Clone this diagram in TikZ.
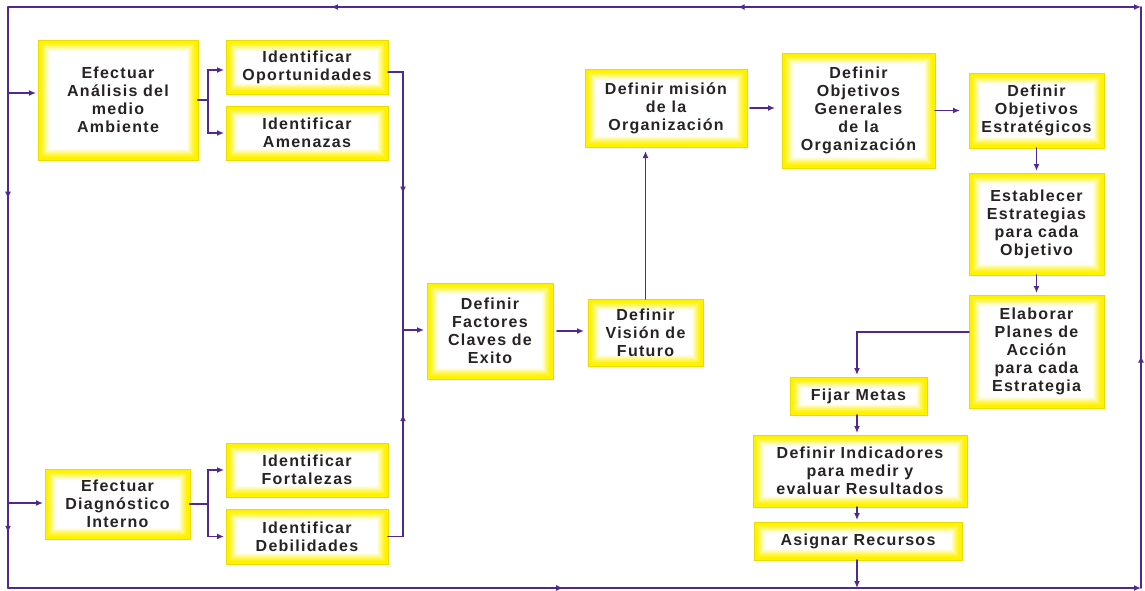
\documentclass[tikz,border=0pt]{standalone}
\usepackage{fontspec}
\newfontfamily\boxfam{Liberation Sans}[LetterSpace=8]
\usetikzlibrary{arrows.meta,decorations.markings}
\definecolor{lin}{RGB}{80,40,145}
\definecolor{ybord}{RGB}{235,220,0}
\definecolor{txt}{RGB}{40,35,35}
\tikzset{
  box/.style 2 args={rectangle, inner sep=0pt, outer sep=0pt, align=center,
    minimum width=#1pt, minimum height=#2pt,
    font=\boxfam\bfseries\fontsize{16}{18}\selectfont, text=txt, fill=white,
    draw=ybord, line width=0.6pt,
    path picture={\foreach \i in {0,...,10}{\pgfmathtruncatemacro\c{min(100,130-\i*12)}
      \draw[draw=yellow!\c!white, line width=1.2pt]
        ([shift={(\i*1pt+0.6pt,\i*1pt+0.6pt)}]path picture bounding box.south west)
        rectangle ([shift={(-\i*1pt-0.6pt,-\i*1pt-0.6pt)}]path picture bounding box.north east);}}},
  line/.style={draw=lin, line width=1.6pt, line cap=round},
  tip/.tip={Latex[length=7pt,width=6pt]},
  arr/.style={line, -tip, shorten >=2pt},
  midarr/.style={postaction={decorate, decoration={markings,
      mark=at position #1 with {\arrow{tip}}}}},
}
\begin{document}
\begin{tikzpicture}[x=1pt,y=-1pt]
\useasboundingbox[fill=white] (0,0) rectangle (1145,590);
% boxes
\node[box={160}{120}] (ana) at (118,100) {Efectuar\\Análisis del\\medio\\Ambiente};
\node[box={162}{54}] (opo) at (307,67) {Identificar\\Oportunidades};
\node[box={162}{54}] (ame) at (307,133) {Identificar\\Amenazas};
\node[box={145}{70}] (diag) at (117.5,504) {Efectuar\\Diagnóstico\\Interno};
\node[box={162}{54}] (fort) at (307,470) {Identificar\\Fortalezas};
\node[box={162}{55}] (deb) at (307,536.5) {Identificar\\Debilidades};
\node[box={126}{96}] (fac) at (490,331) {Definir\\Factores\\Claves de\\Exito};
\node[box={115}{67}] (vis) at (645.5,332.5) {Definir\\Visión de\\Futuro};
\node[box={162}{78}] (mis) at (666,108) {Definir misión\\de la\\Organización};
\node[box={153}{115}] (ogen) at (858.5,110.5) {Definir\\Objetivos\\Generales\\de la\\Organización};
\node[box={135}{75}] (oest) at (1036.5,110.5) {Definir\\Objetivos\\Estratégicos};
\node[box={135}{102}] (est) at (1036.5,224) {Establecer\\Estrategias\\para cada\\Objetivo};
\node[box={135}{113}] (ela) at (1036.5,351.5) {Elaborar\\Planes de\\Acción\\para cada\\Estrategia};
\node[box={137}{38}] (met) at (858.5,396) {Fijar Metas};
\node[box={214}{72}] (ind) at (860,471) {Definir Indicadores\\para medir y\\evaluar Resultados};
\node[box={208}{38}] (asi) at (858,541) {Asignar Recursos};
% loop coordinates
\coordinate (TL) at (8,7);
\coordinate (BL) at (8,588);
\coordinate (BR) at (1141,588);
\coordinate (TR) at (1141,7);
\coordinate (la) at (8,93);
\coordinate (ld) at (8,503);
\coordinate (jn) at (403,330);
\coordinate (cx) at (857,0);
% loop
\draw[line, midarr=0.33, midarr=0.905] (TL) -- (BL);
\draw[line, -tip, midarr=0.49] (BL) -- (BR);
\draw[line, midarr=0.40] (BR) -- (TR);
\draw[line, tip-, midarr=0.356, midarr=0.715] (TR) -- (TL);
% inputs from left
\draw[arr] (la) -- (la -| ana.west);
\draw[arr] (ld) -- (ld -| diag.west);
% branches
\draw[arr] (ana.east) -- ++(10,0) |- ([yshift=-3pt]opo.west);
\draw[arr] (ana.east) -- ++(10,0) |- (ame.west);
\draw[arr] (diag.east) -- ++(18,0) |- (fort.west);
\draw[arr] (diag.east) -- ++(18,0) |- (deb.west);
\draw[line, midarr=0.5] ([yshift=-5pt]opo.east) -| (jn);
\draw[line, midarr=0.62] (deb.east) -| (jn);
\draw[arr, shorten >=3pt] (jn) -- (jn -| fac.west);
\draw[arr, shorten <=4pt, shorten >=4pt] (fac.east) -- (fac.east -| vis.west);
\draw[arr, shorten >=4pt] (vis.north) -- (vis.north |- mis.south);
\draw[arr, shorten <=3pt, shorten >=7pt] (mis.east) -- (mis.east -| ogen.west);
\draw[arr, shorten >=9pt] (ogen.east) -- (ogen.east -| oest.west);
\draw[arr] (oest.south) -- (est.north);
\draw[arr] (est.south) -- (ela.north);
\draw[arr] ([yshift=19.5pt]ela.west) -| (cx |- met.north);
\draw[arr] (cx |- met.south) -- (cx |- ind.north);
\draw[arr] (cx |- ind.south) -- (cx |- asi.north);
\draw[arr, shorten >=0pt] (cx |- asi.south) -- (cx |- BL);
\end{tikzpicture}
\end{document}
